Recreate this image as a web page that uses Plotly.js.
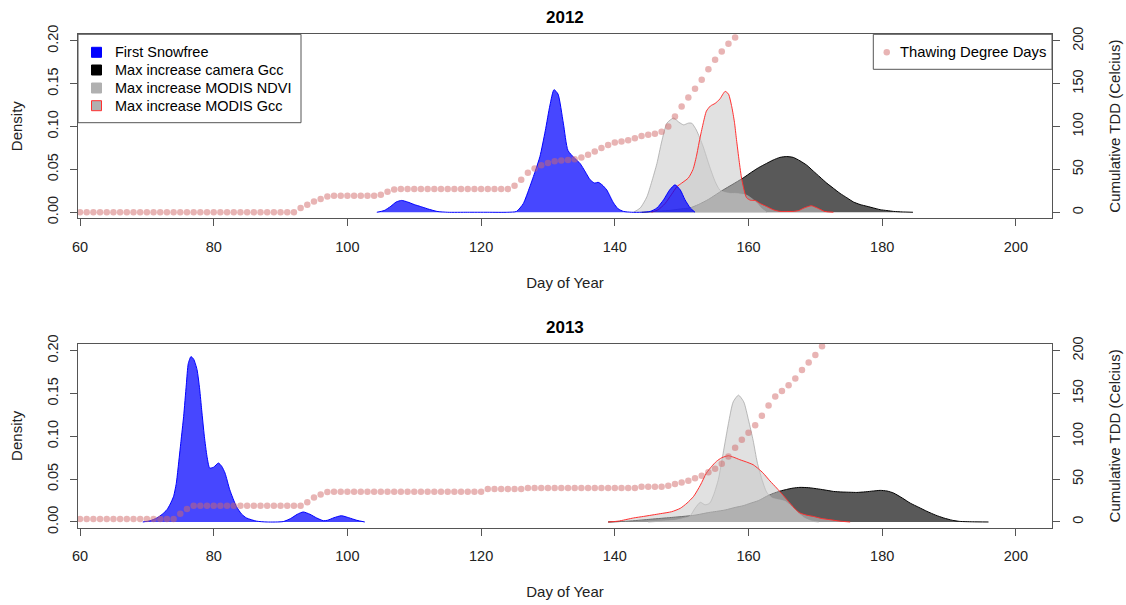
<!DOCTYPE html>
<html>
<head>
<meta charset="utf-8">
<script src="https://cdn.plot.ly/plotly-3.0.1.min.js"></script>
<style>
html,body{margin:0;padding:0;background:#fff;}
#chart{width:1126px;height:605px;}
</style>
</head>
<body>
<div id="chart"></div>
<script>
// ---------- 2012 ----------
const snowDays2012 = [104.4,105.5,106.5,107.3,108.1,109,110,110.9,112,113.4,115,118,121,124,125.3,126.3,127.3,128.1,128.8,129.6,130.3,130.9,131.5,132.3,133.0,134.0,134.8,135.6,136.3,137.0,137.5,138.1,138.8,139.8,140.5,141.3,142.5,144,145.3,146.3,147.3,148.2,149.0,149.8,150.5,151.3,152.0];
const snowDens2012 = [0,0.002,0.007,0.012,0.0138,0.012,0.009,0.0068,0.004,0.001,0,0,0,0,0.001,0.010,0.030,0.048,0.065,0.095,0.125,0.143,0.138,0.104,0.072,0.063,0.057,0.047,0.038,0.034,0.035,0.032,0.026,0.011,0.004,0.001,0,0,0.001,0.005,0.0146,0.026,0.032,0.026,0.0146,0.005,0];

const ndviDays2012 = [142.8,143.8,144.8,145.5,146.3,147.0,147.8,148.8,149.6,150.3,151.0,151.5,152.2,153.2,154.2,155.0,155.7,156.5,157.3,158.2,159.0,159.7,160.5,161.2,162.0,162.7];
const ndviDens2012 = [0,0.005,0.018,0.035,0.057,0.082,0.104,0.110,0.105,0.102,0.104,0.104,0.096,0.077,0.053,0.036,0.026,0.023,0.022,0.022,0.021,0.020,0.016,0.011,0.004,0];

const mgccDays2012 = [145.5,146.5,147.5,148.5,149.3,150.0,151.0,151.7,152.2,152.7,153.2,153.7,154.3,155.0,155.7,156.5,157.0,157.5,157.9,158.2,158.6,159.0,159.7,160.3,161.0,161.8,162.7,163.7,164.7,165.7,166.7,167.5,168.3,169.4,170.3,171.4,172.7];
const mgccDens2012 = [0,0.003,0.010,0.021,0.030,0.034,0.040,0.050,0.065,0.085,0.103,0.118,0.124,0.127,0.132,0.141,0.138,0.123,0.105,0.085,0.060,0.038,0.017,0.014,0.0138,0.010,0.0068,0.003,0.001,0.001,0.001,0.002,0.005,0.0076,0.005,0.001,0];

const camDays2012 = [144,146,148,150,151.2,152.5,154,155,156.2,157.5,159.2,160.5,161.5,162.7,163.7,164.7,165.7,166.7,167.7,168.7,169.7,170.7,171.7,172.7,173.7,174.7,175.7,176.7,177.7,178.7,179.7,180.7,181.7,183,184.6];
const camDens2012 = [0,0.001,0.002,0.004,0.005,0.009,0.015,0.020,0.026,0.032,0.040,0.047,0.052,0.057,0.061,0.064,0.065,0.064,0.060,0.055,0.048,0.041,0.034,0.028,0.022,0.017,0.012,0.009,0.007,0.005,0.003,0.002,0.001,0.0004,0];

const tddStart2012 = 60;
const tdd2012 = [0,0,0,0,0,0,0,0,0,0, 0,0,0,0,0,0,0,0,0,0, 0,0,0,0,0,0,0,0,0,0, 0,0,0,
  4.9,8.7,12.6,15.4,18.4,19.2,19.2,19.2,19.2,19.2,19.2,19.2,20.4,24,26.5,
  27,27,27,27,27,27,27,27,27,27,27,27,27,27,27,27,27,
  31,38,46,51,55,57.5,59.5,60.5,61,62,64,67,71,75,78.5,81.5,82.6,84,86.5,89,90.4,91.5,94,100,111.7,123.4,134,144,154.5,167,178,187.5,196.5,204,213];

// ---------- 2013 ----------
const snowDays2013 = [69.4,70.5,71.5,72.3,73.0,73.5,74.0,74.4,74.7,75.1,75.5,75.9,76.2,76.6,77.0,77.5,77.9,78.2,78.6,79.0,79.4,80.0,80.7,81.2,81.7,82.4,83.4,84.2,84.9,86.4,88,90.4,91.5,92.5,93.4,94.4,95.4,96.4,97.0,98.0,99.1,100.2,101.4,102.6];
const snowDens2013 = [0,0.0015,0.0047,0.009,0.0143,0.021,0.030,0.045,0.065,0.094,0.123,0.160,0.185,0.193,0.190,0.178,0.155,0.131,0.100,0.0765,0.063,0.064,0.0688,0.065,0.057,0.0377,0.018,0.009,0.0047,0.001,0,0.0005,0.004,0.009,0.0117,0.009,0.0047,0.0015,0.002,0.005,0.0073,0.005,0.002,0];

const ndviDays2013 = [145,147,149,150.2,151.2,152.0,152.8,153.5,154.2,154.8,155.5,156.2,157.0,157.7,158.5,159.3,160.0,160.7,161.3,162.0,162.7,163.5,164.5,165.5,166.5,167.5,168.5,169.5,170.5];
const ndviDens2013 = [0,0.001,0.002,0.004,0.0065,0.016,0.023,0.020,0.022,0.032,0.050,0.080,0.115,0.140,0.148,0.140,0.119,0.095,0.070,0.050,0.035,0.028,0.026,0.024,0.018,0.010,0.004,0.001,0];

const mgccDays2013 = [139.0,140.5,142.8,144.3,146.8,148.5,149.8,150.8,151.8,152.8,153.7,154.5,155.2,156.0,157.0,157.8,158.7,159.7,160.7,161.5,162.2,163.2,164.2,165.2,166.2,167.0,167.7,168.7,169.7,171.0,172.2,173.7,175.2];
const mgccDens2013 = [0,0.001,0.0047,0.0065,0.0097,0.012,0.016,0.022,0.030,0.043,0.057,0.065,0.0707,0.075,0.0773,0.0755,0.0727,0.070,0.0668,0.062,0.057,0.048,0.0397,0.031,0.022,0.015,0.0105,0.008,0.0065,0.004,0.0027,0.001,0];

const camDays2013 = [139,142,145,148,150.2,152,154,155.2,156.5,158,159.2,160.2,161.5,162.7,163.7,164.7,165.7,166.7,167.7,169,170.5,171.7,172.7,174,175.2,176.2,177.5,178.7,179.7,180.7,181.7,183,184.2,185.5,186.7,188,189.2,190.5,191.6,193.5,195.9];
const camDens2013 = [0,0.001,0.003,0.005,0.0065,0.008,0.011,0.0124,0.014,0.017,0.019,0.0217,0.025,0.030,0.0334,0.036,0.038,0.0396,0.0404,0.040,0.0385,0.037,0.0357,0.035,0.0347,0.0345,0.0352,0.0362,0.0369,0.0362,0.0338,0.028,0.022,0.017,0.0124,0.008,0.0047,0.002,0.0007,0.0002,0];

const tddStart2013 = 60;
const tdd2013 = [3.5,3.5,3.5,3.5,3.5,3.5,3.5,3.5,3.5,3.5,3.5,3.5,3.5,3.5,3.5,
  9.7,15.2,19,
  19,19,19,19,19,19,19,19,19,19,19,19,19,19,19,19,
  23,28.5,32,35,
  35.3,35.3,35.3,35.3,35.3,35.3,35.3,35.3,35.3,35.3,35.3,35.3,35.3,35.3,35.3,35.3,35.3,35.3,35.3,35.3,35.3,35.3,35.3,
  38.5,38.5,38.5,38.5,38.5,38.5,
  39.6,39.6,39.6,39.6,39.6,39.6,39.6,39.6,39.6,39.6,39.6,39.6,39.6,39.6,39.6,39.6,39.6,
  41.2,41.2,41.2,41.2,
  42.3,44.3,46.2,48,51,54,58,62,68,76.5,86.5,96,104,113,124,136,146.5,153,159.5,167.5,177.5,186,195,205,215];

// ---------- labels ----------
const panelTitles = ['2012','2013'];
const legendNames = ['First Snowfree','Max increase camera Gcc','Max increase MODIS NDVI','Max increase MODIS Gcc'];
const tddName = 'Thawing Degree Days';
const xTicks = [60,80,100,120,140,160,180,200];
const densTicks = [0,0.05,0.10,0.15,0.20];
const tddTicks = [0,50,100,150,200];

// ---------- styles ----------
const FONT = 'Arial, "Liberation Sans", Helvetica, sans-serif';
const C = {
  snowFill:'rgba(0,0,255,0.72)', snowLine:'#0000ff',
  camFill:'rgba(0,0,0,0.65)', camLine:'#000000',
  ndviFill:'rgba(200,200,200,0.55)', ndviLine:'rgba(160,160,160,0.7)',
  mgccFill:'rgba(200,200,200,0.55)', mgccLine:'#ff3030',
  tdd:'rgba(210,105,105,0.5)', axis:'#555555', text:'#222222'
};
const legendSwatches = [
  {fill:'#0000ff', line:'#0000ff'},
  {fill:'#000000', line:'#000000'},
  {fill:'#b0b0b0', line:'#b0b0b0'},
  {fill:'#b0b0b0', line:'#ff3030'}
];

function area(x, y, fill, line, xa, ya){
  return {type:'scatter', mode:'lines', x:x, y:y, xaxis:xa, yaxis:ya,
    fill:'tozeroy', fillcolor:fill, line:{color:line, width:1, shape:'spline', smoothing:0.6},
    showlegend:false, hoverinfo:'skip'};
}
function tddTrace(vals, start, xa, ya){
  return {type:'scatter', mode:'markers', x:vals.map((_, i) => start + i), y:vals,
    xaxis:xa, yaxis:ya, marker:{color:C.tdd, size:6.5}, name:tddName,
    showlegend:false, hoverinfo:'skip'};
}

const traces = [
  area(camDays2012, camDens2012, C.camFill, C.camLine, 'x', 'y'),
  area(ndviDays2012, ndviDens2012, C.ndviFill, C.ndviLine, 'x', 'y'),
  area(mgccDays2012, mgccDens2012, C.mgccFill, C.mgccLine, 'x', 'y'),
  area(snowDays2012, snowDens2012, C.snowFill, C.snowLine, 'x', 'y'),
  area(camDays2013, camDens2013, C.camFill, C.camLine, 'x2', 'y3'),
  area(ndviDays2013, ndviDens2013, C.ndviFill, C.ndviLine, 'x2', 'y3'),
  area(mgccDays2013, mgccDens2013, C.mgccFill, C.mgccLine, 'x2', 'y3'),
  area(snowDays2013, snowDens2013, C.snowFill, C.snowLine, 'x2', 'y3'),
  tddTrace(tdd2012, tddStart2012, 'x', 'y2'),
  tddTrace(tdd2013, tddStart2013, 'x2', 'y4')
];

const tickFont = {family:FONT, size:14.5, color:C.text};
const titleFont = {family:FONT, size:15, color:C.text};
function xAxis(anchor){
  return {anchor:anchor, domain:[0,1], range:[59.7,205.4], tickvals:xTicks, ticks:'outside', ticklen:7,
    tickcolor:C.axis, showline:true, linecolor:C.axis, linewidth:1, mirror:true, showgrid:false, zeroline:false,
    tickfont:tickFont, ticklabelstandoff:8,
    title:{text:'Day of Year', font:titleFont, standoff:23}};
}
function yLeft(domain, anchor){
  return {anchor:anchor, domain:domain, range:[-0.007,0.208], tickvals:densTicks, tickformat:'.2f',
    ticks:'outside', ticklen:7, tickcolor:C.axis, tickangle:-90, showline:true, linecolor:C.axis, linewidth:1,
    showgrid:false, zeroline:false, tickfont:tickFont, ticklabelstandoff:6,
    title:{text:'Density', font:titleFont, standoff:18}};
}
function yRight(over, anchor){
  return {overlaying:over, anchor:anchor, side:'right', range:[-7,208], tickvals:tddTicks,
    ticks:'outside', ticklen:7, tickcolor:C.axis, tickangle:-90, showline:true, linecolor:C.axis, linewidth:1,
    showgrid:false, zeroline:false, tickfont:tickFont, ticklabelstandoff:6,
    title:{text:'Cumulative TDD (Celcius)', font:titleFont, standoff:24}};
}

// ---------- legends (drawn in the top panel, paper coords) ----------
const PW = 974, PH = 494, PL = 78, PB = 528;   // plot area in px
const px = v => (v - PL) / PW;
const py = v => (PB - v) / PH;
const shapes = [];
const annotations = [];
// legend 1 box
shapes.push({type:'rect', xref:'paper', yref:'paper', x0:px(78), x1:px(301), y0:py(122.7), y1:py(34.3),
  line:{color:C.axis, width:1}, fillcolor:'#ffffff', layer:'above'});
const rowsY = [52.3, 70, 88, 105.7];
legendNames.forEach((name, i) => {
  const cy = rowsY[i];
  shapes.push({type:'rect', xref:'paper', yref:'paper', x0:px(91.5), x1:px(101.5), y0:py(cy + 5), y1:py(cy - 5),
    line:{color:legendSwatches[i].line, width:1}, fillcolor:legendSwatches[i].fill, layer:'above'});
  annotations.push({text:name, xref:'paper', yref:'paper', x:px(112.5), y:py(cy), xanchor:'left', yanchor:'middle',
    showarrow:false, font:{family:FONT, size:14.5, color:'#000'}});
});
// legend 2 box
shapes.push({type:'rect', xref:'paper', yref:'paper', x0:px(873.3), x1:px(1052), y0:py(69.3), y1:py(34.3),
  line:{color:C.axis, width:1}, fillcolor:'#ffffff', layer:'above'});
shapes.push({type:'circle', xref:'paper', yref:'paper', x0:px(883.5), x1:px(890), y0:py(55.5), y1:py(49),
  line:{color:'rgba(0,0,0,0)', width:0}, fillcolor:'#e8b4b4', layer:'above'});
annotations.push({text:tddName, xref:'paper', yref:'paper', x:px(898), y:py(52.3), xanchor:'left', yanchor:'middle',
  showarrow:false, font:{family:FONT, size:14.8, color:'#000'}});
// panel titles
annotations.push({text:'<b>'+panelTitles[0]+'</b>', xref:'paper', yref:'paper', x:0.5, y:py(17), xanchor:'center', yanchor:'middle',
  showarrow:false, font:{family:FONT, size:17, color:'#000'}});
annotations.push({text:'<b>'+panelTitles[1]+'</b>', xref:'paper', yref:'paper', x:0.5, y:py(327), xanchor:'center', yanchor:'middle',
  showarrow:false, font:{family:FONT, size:17, color:'#000'}});

const layout = {
  width:1126, height:605,
  margin:{l:78, r:74, t:34, b:77},
  paper_bgcolor:'#ffffff', plot_bgcolor:'#ffffff',
  font:{family:FONT, size:14, color:C.text},
  showlegend:false,
  xaxis:xAxis('y'),
  yaxis:yLeft([0.627,1], 'x'),
  yaxis2:yRight('y', 'x'),
  xaxis2:xAxis('y3'),
  yaxis3:yLeft([0,0.373], 'x2'),
  yaxis4:yRight('y3', 'x2'),
  shapes:shapes,
  annotations:annotations
};

Plotly.newPlot('chart', traces, layout, {staticPlot:true, displayModeBar:false});
</script>
</body>
</html>
